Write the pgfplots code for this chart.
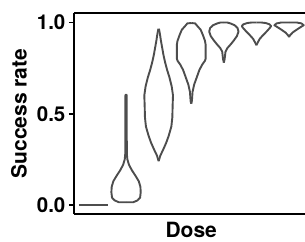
\documentclass[border=0pt]{standalone}
\usepackage{pgfplots}
\pgfplotsset{compat=1.18}
\usepackage{pgfplotstable}
\usepackage{fontspec}
\setmainfont{TeX Gyre Heros}
\definecolor{vio}{RGB}{77,77,77}

\pgfplotstableread{
v w
0.015 0
0.015 0.22
0.025 0.35
0.04 0.43
0.07 0.45
0.10 0.44
0.13 0.39
0.16 0.29
0.19 0.18
0.22 0.09
0.25 0.04
0.28 0.025
0.45 0.02
0.60 0.02
0.607 0
}\vtwo
\pgfplotstableread{
v w
0.24 0
0.27 0.05
0.30 0.13
0.34 0.23
0.38 0.31
0.43 0.39
0.48 0.42
0.55 0.43
0.60 0.44
0.65 0.40
0.70 0.33
0.74 0.26
0.78 0.20
0.82 0.15
0.86 0.11
0.90 0.07
0.93 0.045
0.96 0.015
0.965 0
}\vthree
\pgfplotstableread{
v w
0.555 0
0.57 0.02
0.62 0.04
0.66 0.09
0.70 0.17
0.74 0.25
0.77 0.34
0.79 0.42
0.80 0.44
0.88 0.44
0.90 0.42
0.93 0.36
0.96 0.29
0.98 0.19
0.995 0.12
0.997 0
}\vfour
\pgfplotstableread{
v w
0.78 0
0.80 0.025
0.84 0.05
0.86 0.11
0.88 0.21
0.90 0.30
0.925 0.40
0.95 0.45
0.97 0.42
0.985 0.33
0.995 0.2
1.0 0.1
1.0 0
}\vfive
\pgfplotstableread{
v w
0.875 0
0.885 0.025
0.91 0.10
0.93 0.20
0.95 0.31
0.97 0.41
0.98 0.45
0.99 0.40
0.997 0.28
1.0 0.14
1.0 0
}\vsix
\pgfplotstableread{
v w
0.92 0
0.93 0.03
0.945 0.11
0.96 0.23
0.975 0.36
0.985 0.45
0.995 0.38
1.0 0.23
1.0 0
}\vseven

\begin{document}
\begin{tikzpicture}
\begin{axis}[
  scale only axis, width=234.7pt, height=200.75pt,
  xmin=0.4, xmax=7.6, ymin=-0.05, ymax=1.05,
  separate axis lines,
  axis x line=box, axis y line*=left,
  axis line style={line width=2pt, black},
  xtick=\empty,
  ytick={0,0.5,1}, yticklabels={0.0,0.5,1.0},
  tick align=outside, major tick length=5pt,
  tick style={line width=1.8pt, black},
  /pgf/number format/assume math mode=true,
  tick label style={font=\fontsize{20.5}{24}\selectfont\bfseries},
  every axis y label/.style={at={(axis description cs:-0.201,0.5)}, rotate=90, anchor=base, font=\fontsize{21}{24}\selectfont\bfseries},
  every axis x label/.style={at={(axis description cs:0.5,-0.117)}, anchor=base, font=\fontsize{21}{24}\selectfont\bfseries},
  xlabel={Dose}, ylabel={Success rate},
  vv/.style={vio, solid, line width=1.9pt, line join=round, mark=none},
]
\addplot[vv] coordinates {(0.55,0) (1.45,0)};
\addplot[vv] table[x expr=2+\thisrow{w}, y=v]{\vtwo};
\addplot[vv] table[x expr=2-\thisrow{w}, y=v]{\vtwo};
\addplot[vv] table[x expr=3+\thisrow{w}, y=v]{\vthree};
\addplot[vv] table[x expr=3-\thisrow{w}, y=v]{\vthree};
\addplot[vv] table[x expr=4+\thisrow{w}, y=v]{\vfour};
\addplot[vv] table[x expr=4-\thisrow{w}, y=v]{\vfour};
\addplot[vv] table[x expr=5+\thisrow{w}, y=v]{\vfive};
\addplot[vv] table[x expr=5-\thisrow{w}, y=v]{\vfive};
\addplot[vv] table[x expr=6+\thisrow{w}, y=v]{\vsix};
\addplot[vv] table[x expr=6-\thisrow{w}, y=v]{\vsix};
\addplot[vv] table[x expr=7+\thisrow{w}, y=v]{\vseven};
\addplot[vv] table[x expr=7-\thisrow{w}, y=v]{\vseven};
\end{axis}
\pgfresetboundingbox
\path[use as bounding box] ([shift={(-73.9pt,-26.9pt)}]current axis.south west) rectangle ([shift={(231.1pt,214.1pt)}]current axis.south west);
\end{tikzpicture}
\end{document}
